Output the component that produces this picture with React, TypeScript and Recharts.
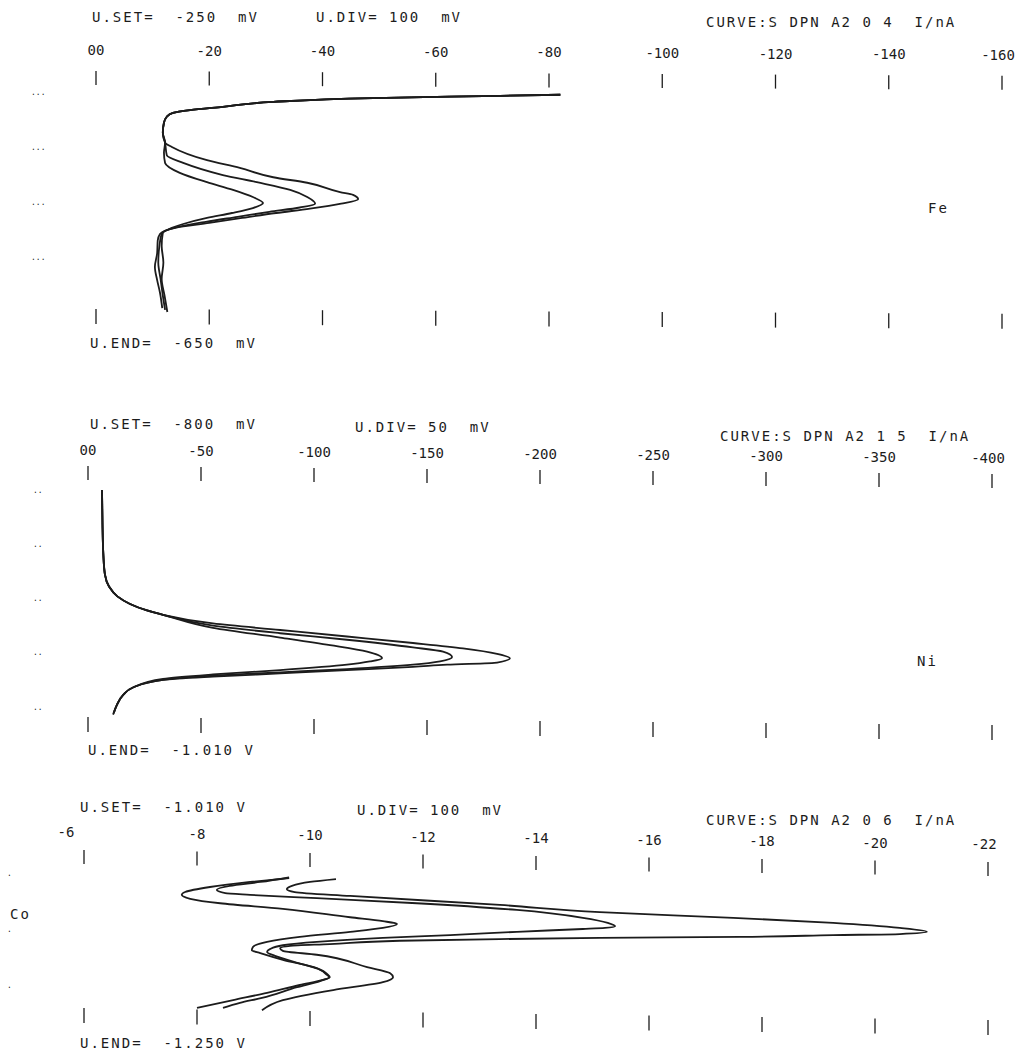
import { ScatterChart, Scatter, XAxis, YAxis } from "recharts";

// Fe panel: current (nA) vs potential (mV), three scans
const feTicks = [0, -20, -40, -60, -80, -100, -120, -140, -160];
const feMarks = [-250, -350, -450, -550];
const feStart = [[-82, -255], [-71.4, -257], [-48.9, -261], [-31.3, -268], [-22.4, -277], [-16.6, -283], [-13.6, -288], [-12.5, -295], [-12.0, -306], [-11.8, -324], [-12.2, -342]];
const feOuter = [[-13.4, -350], [-19.6, -374], [-25.4, -388], [-31.3, -405], [-37.3, -415], [-43.1, -432], [-45.4, -437], [-46.3, -445], [-43.3, -453], [-37.8, -462], [-31.8, -470], [-25.8, -479], [-20.0, -488], [-14.0, -497], [-11.3, -508], [-10.9, -520], [-10.8, -543], [-10.4, -568], [-10.8, -592], [-11.3, -615], [-11.7, -643]];
const feMiddle = [[-12.5, -365], [-15.4, -379], [-22.4, -401], [-28.4, -414], [-34.3, -428], [-37.3, -441], [-38.7, -453], [-36.0, -460], [-30.6, -468], [-25.0, -477], [-19.4, -486], [-13.8, -497], [-11.6, -508], [-11.2, -530], [-11.0, -560], [-11.4, -590], [-11.8, -620], [-12.2, -646]];
const feInner = [[-12.0, -360], [-12.2, -379], [-14.8, -397], [-19.6, -414], [-24.2, -428], [-27.7, -441], [-29.5, -452], [-27.7, -461], [-24.0, -470], [-19.6, -479], [-15.4, -490], [-13.4, -497], [-11.8, -506], [-11.6, -530], [-11.9, -560], [-11.6, -590], [-12.1, -620], [-12.6, -650]];

// Ni panel
const niTicks = [0, -50, -100, -150, -200, -250, -300, -350, -400];
const niMarks = [-800, -850, -900, -950, -1000];
const niStart = [[-6.2, -800], [-6.4, -830], [-6.8, -860], [-7.5, -878], [-9.3, -889], [-13.0, -898], [-18.6, -905], [-26.1, -911], [-33.2, -915]];
const niOuter = [[-55.3, -923], [-85.0, -929], [-114.6, -935], [-143.8, -941], [-165.9, -946], [-181.0, -951], [-186.7, -955], [-181.0, -959], [-158.9, -961], [-143.8, -963], [-114.6, -966], [-85.0, -969], [-55.3, -972], [-33.2, -975], [-19.9, -982], [-15.5, -989], [-12.8, -998], [-11.1, -1007]];
const niMiddle = [[-55.3, -925], [-85.0, -932], [-114.6, -938], [-143.8, -945], [-157.1, -949], [-161.1, -954], [-155.8, -958], [-143.8, -961], [-114.6, -965], [-85.0, -968], [-55.3, -971], [-33.2, -975], [-19.9, -982], [-15.5, -989], [-12.8, -998], [-11.3, -1006]];
const niInner = [[-55.3, -927], [-85.0, -936], [-107.1, -943], [-123.5, -949], [-130.1, -955], [-124.8, -958], [-114.6, -961], [-85.0, -966], [-55.3, -970], [-33.2, -974], [-19.9, -982], [-15.5, -989], [-12.8, -998], [-11.5, -1005]];

// Co panel
const coTicks = [-6, -8, -10, -12, -14, -16, -18, -20, -22];
const coMarks = [-1010, -1110, -1210];
const coA = [[-9.63, -1019], [-8.94, -1026], [-8.23, -1035], [-7.79, -1044], [-7.73, -1049], [-7.88, -1056], [-8.41, -1064], [-9.52, -1074], [-10.71, -1089], [-11.29, -1096], [-11.54, -1101], [-11.29, -1108], [-10.71, -1115], [-9.82, -1124], [-9.24, -1133], [-8.99, -1142], [-8.97, -1148], [-9.12, -1153], [-9.52, -1165], [-10.12, -1180], [-10.32, -1192], [-10.35, -1196], [-10.23, -1201], [-9.82, -1210], [-9.24, -1224], [-8.64, -1237], [-8.0, -1251]];
const coB = [[-9.63, -1018], [-9.12, -1026], [-8.58, -1033], [-8.35, -1040], [-8.5, -1046], [-8.94, -1049], [-10.12, -1055], [-11.89, -1064], [-13.66, -1076], [-14.83, -1090], [-15.27, -1099], [-15.4, -1105], [-15.22, -1108], [-14.83, -1110], [-13.66, -1115], [-12.48, -1121], [-11.29, -1126], [-10.12, -1133], [-9.52, -1139], [-9.29, -1146], [-9.24, -1151], [-9.38, -1158], [-9.73, -1169], [-10.14, -1181], [-10.3, -1192], [-10.34, -1196], [-10.18, -1203], [-9.77, -1214], [-9.15, -1233], [-8.76, -1242], [-8.46, -1251]];
const coC = [[-10.46, -1021], [-10.0, -1026], [-9.68, -1033], [-9.59, -1039], [-9.73, -1044], [-10.71, -1051], [-13.36, -1067], [-15.13, -1080], [-17.49, -1090], [-19.26, -1099], [-20.44, -1108], [-20.92, -1115], [-20.44, -1119], [-19.26, -1121], [-17.61, -1124], [-15.13, -1126], [-13.36, -1128], [-11.59, -1131], [-10.35, -1137], [-9.65, -1140], [-9.47, -1144], [-9.52, -1149], [-10.12, -1156], [-11.01, -1178], [-11.42, -1189], [-11.47, -1196], [-11.29, -1205], [-10.41, -1219], [-9.52, -1237], [-9.15, -1255]];

type Pt = { i: number; u: number };
const toPts = (...parts: number[][][]): Pt[] => parts.flat().map(([i, u]) => ({ i, u }));

const INK = "#1c1c1c";
const MONO = '"DejaVu Sans Mono", "Liberation Mono", monospace';

type Panel = {
  top: number; height: number; left: number; right: number;
  plotTop: number; plotBottom: number;
  xDomain: [number, number]; yDomain: [number, number];
  ticks: number[]; marks: number[];
  fmt: (v: number) => string;
  labelY: number; markY: number; baseY: number; skew: number; firstShift: number;
  dotX: number; dot: string;
  curves: Pt[][];
};

const zeroFmt = (v: number) => (v === 0 ? "00" : String(v));

const panels: Panel[] = [
  {
    top: 0, height: 350, left: 96, right: 1002, plotTop: 86.5, plotBottom: 317.5,
    xDomain: [-160, 0], yDomain: [-660, -240], ticks: feTicks, marks: feMarks, fmt: zeroFmt,
    labelY: 50, markY: 71, baseY: 309, skew: 0.6, firstShift: 0, dotX: 31, dot: "...",
    curves: [toPts(feStart, feOuter), toPts(feStart, feMiddle), toPts(feStart, feInner)],
  },
  {
    top: 380, height: 400, left: 88, right: 992, plotTop: 484.6, plotBottom: 723.3,
    xDomain: [-400, 0], yDomain: [-1015, -795], ticks: niTicks, marks: niMarks, fmt: zeroFmt,
    labelY: 450, markY: 466, baseY: 717, skew: 1, firstShift: 0, dotX: 33, dot: "..",
    curves: [toPts(niStart, niOuter), toPts(niStart, niMiddle), toPts(niStart, niInner)],
  },
  {
    top: 780, height: 272, left: 84, right: 988, plotTop: 867.4, plotBottom: 1013,
    xDomain: [-22, -6], yDomain: [-1260, -1000], ticks: coTicks, marks: coMarks, fmt: (v) => String(v),
    labelY: 832, markY: 850, baseY: 1008, skew: 1.5, firstShift: -18, dotX: 7, dot: ".",
    curves: [toPts(coA), toPts(coB), toPts(coC)],
  },
];

const labels = [
  { t: "U.SET=  -250  mV", x: 92, y: 17 },
  { t: "U.DIV= 100  mV", x: 316, y: 17 },
  { t: "CURVE:S DPN A2 0 4  I/nA", x: 706, y: 22 },
  { t: "U.END=  -650  mV", x: 90, y: 343 },
  { t: "Fe", x: 928, y: 208 },
  { t: "U.SET=  -800  mV", x: 90, y: 424 },
  { t: "U.DIV= 50  mV", x: 355, y: 427 },
  { t: "CURVE:S DPN A2 1 5  I/nA", x: 720, y: 436 },
  { t: "U.END=  -1.010 V", x: 88, y: 750 },
  { t: "Ni", x: 917, y: 661 },
  { t: "U.SET=  -1.010 V", x: 80, y: 807 },
  { t: "U.DIV= 100  mV", x: 357, y: 810 },
  { t: "CURVE:S DPN A2 0 6  I/nA", x: 706, y: 820 },
  { t: "U.END=  -1.250 V", x: 80, y: 1043 },
  { t: "Co", x: 10, y: 914 },
];

function PanelChart({ p }: { p: Panel }) {
  const t = p.top;
  const last = p.ticks.length - 1;
  const tick = (props: any) => {
    const { x, payload, index } = props;
    const d = index * p.skew;
    const lx = index === 0 ? x + p.firstShift : index === last ? x - 4 : x;
    return (
      <g>
        <text x={lx} y={p.labelY - t + d} textAnchor="middle" dominantBaseline="central"
          fontFamily={MONO} fontSize={14} fill={INK}>
          {p.fmt(payload.value)}
        </text>
        <line x1={x} x2={x} y1={p.markY - t + d} y2={p.markY - t + d + 14} stroke={INK} strokeWidth={1.3} />
        <line x1={x} x2={x} y1={p.baseY - t + d} y2={p.baseY - t + d + 15} stroke={INK} strokeWidth={1.3} />
      </g>
    );
  };
  const dotTick = (props: any) => (
    <text x={p.dotX} y={props.y} dominantBaseline="central" fontFamily={MONO} fontSize={8} fill={INK}>
      {p.dot}
    </text>
  );
  return (
    <ScatterChart
      width={1019}
      height={p.height}
      margin={{ top: 0, right: 1019 - p.right, bottom: p.height - (p.plotBottom - t), left: 0 }}
    >
      <XAxis type="number" dataKey="i" domain={p.xDomain} reversed ticks={p.ticks} orientation="top"
        height={p.plotTop - t} axisLine={false} tickLine={false} interval={0} tick={tick} />
      <YAxis type="number" dataKey="u" domain={p.yDomain} ticks={p.marks} width={p.left}
        axisLine={false} tickLine={false} interval={0} tick={dotTick} />
      {p.curves.map((c, k) => (
        <Scatter key={k} data={c} fill={INK} line={{ stroke: INK, strokeWidth: 1.8 }}
          lineJointType="monotoneY" shape={() => <g />} isAnimationActive={false} />
      ))}
    </ScatterChart>
  );
}

export default function App() {
  return (
    <div style={{ position: "absolute", left: 0, top: 0, width: 1019, height: 1052, background: "#fff", overflow: "hidden" }}>
      {panels.map((p, k) => (
        <div key={k} style={{ position: "absolute", left: 0, top: p.top }}>
          <PanelChart p={p} />
        </div>
      ))}
      {labels.map((l, k) => (
        <div key={k} style={{
          position: "absolute", left: l.x, top: l.y - 8, lineHeight: "16px", fontFamily: MONO,
          fontSize: 14, letterSpacing: 2, color: INK, whiteSpace: "pre",
        }}>
          {l.t}
        </div>
      ))}
    </div>
  );
}
